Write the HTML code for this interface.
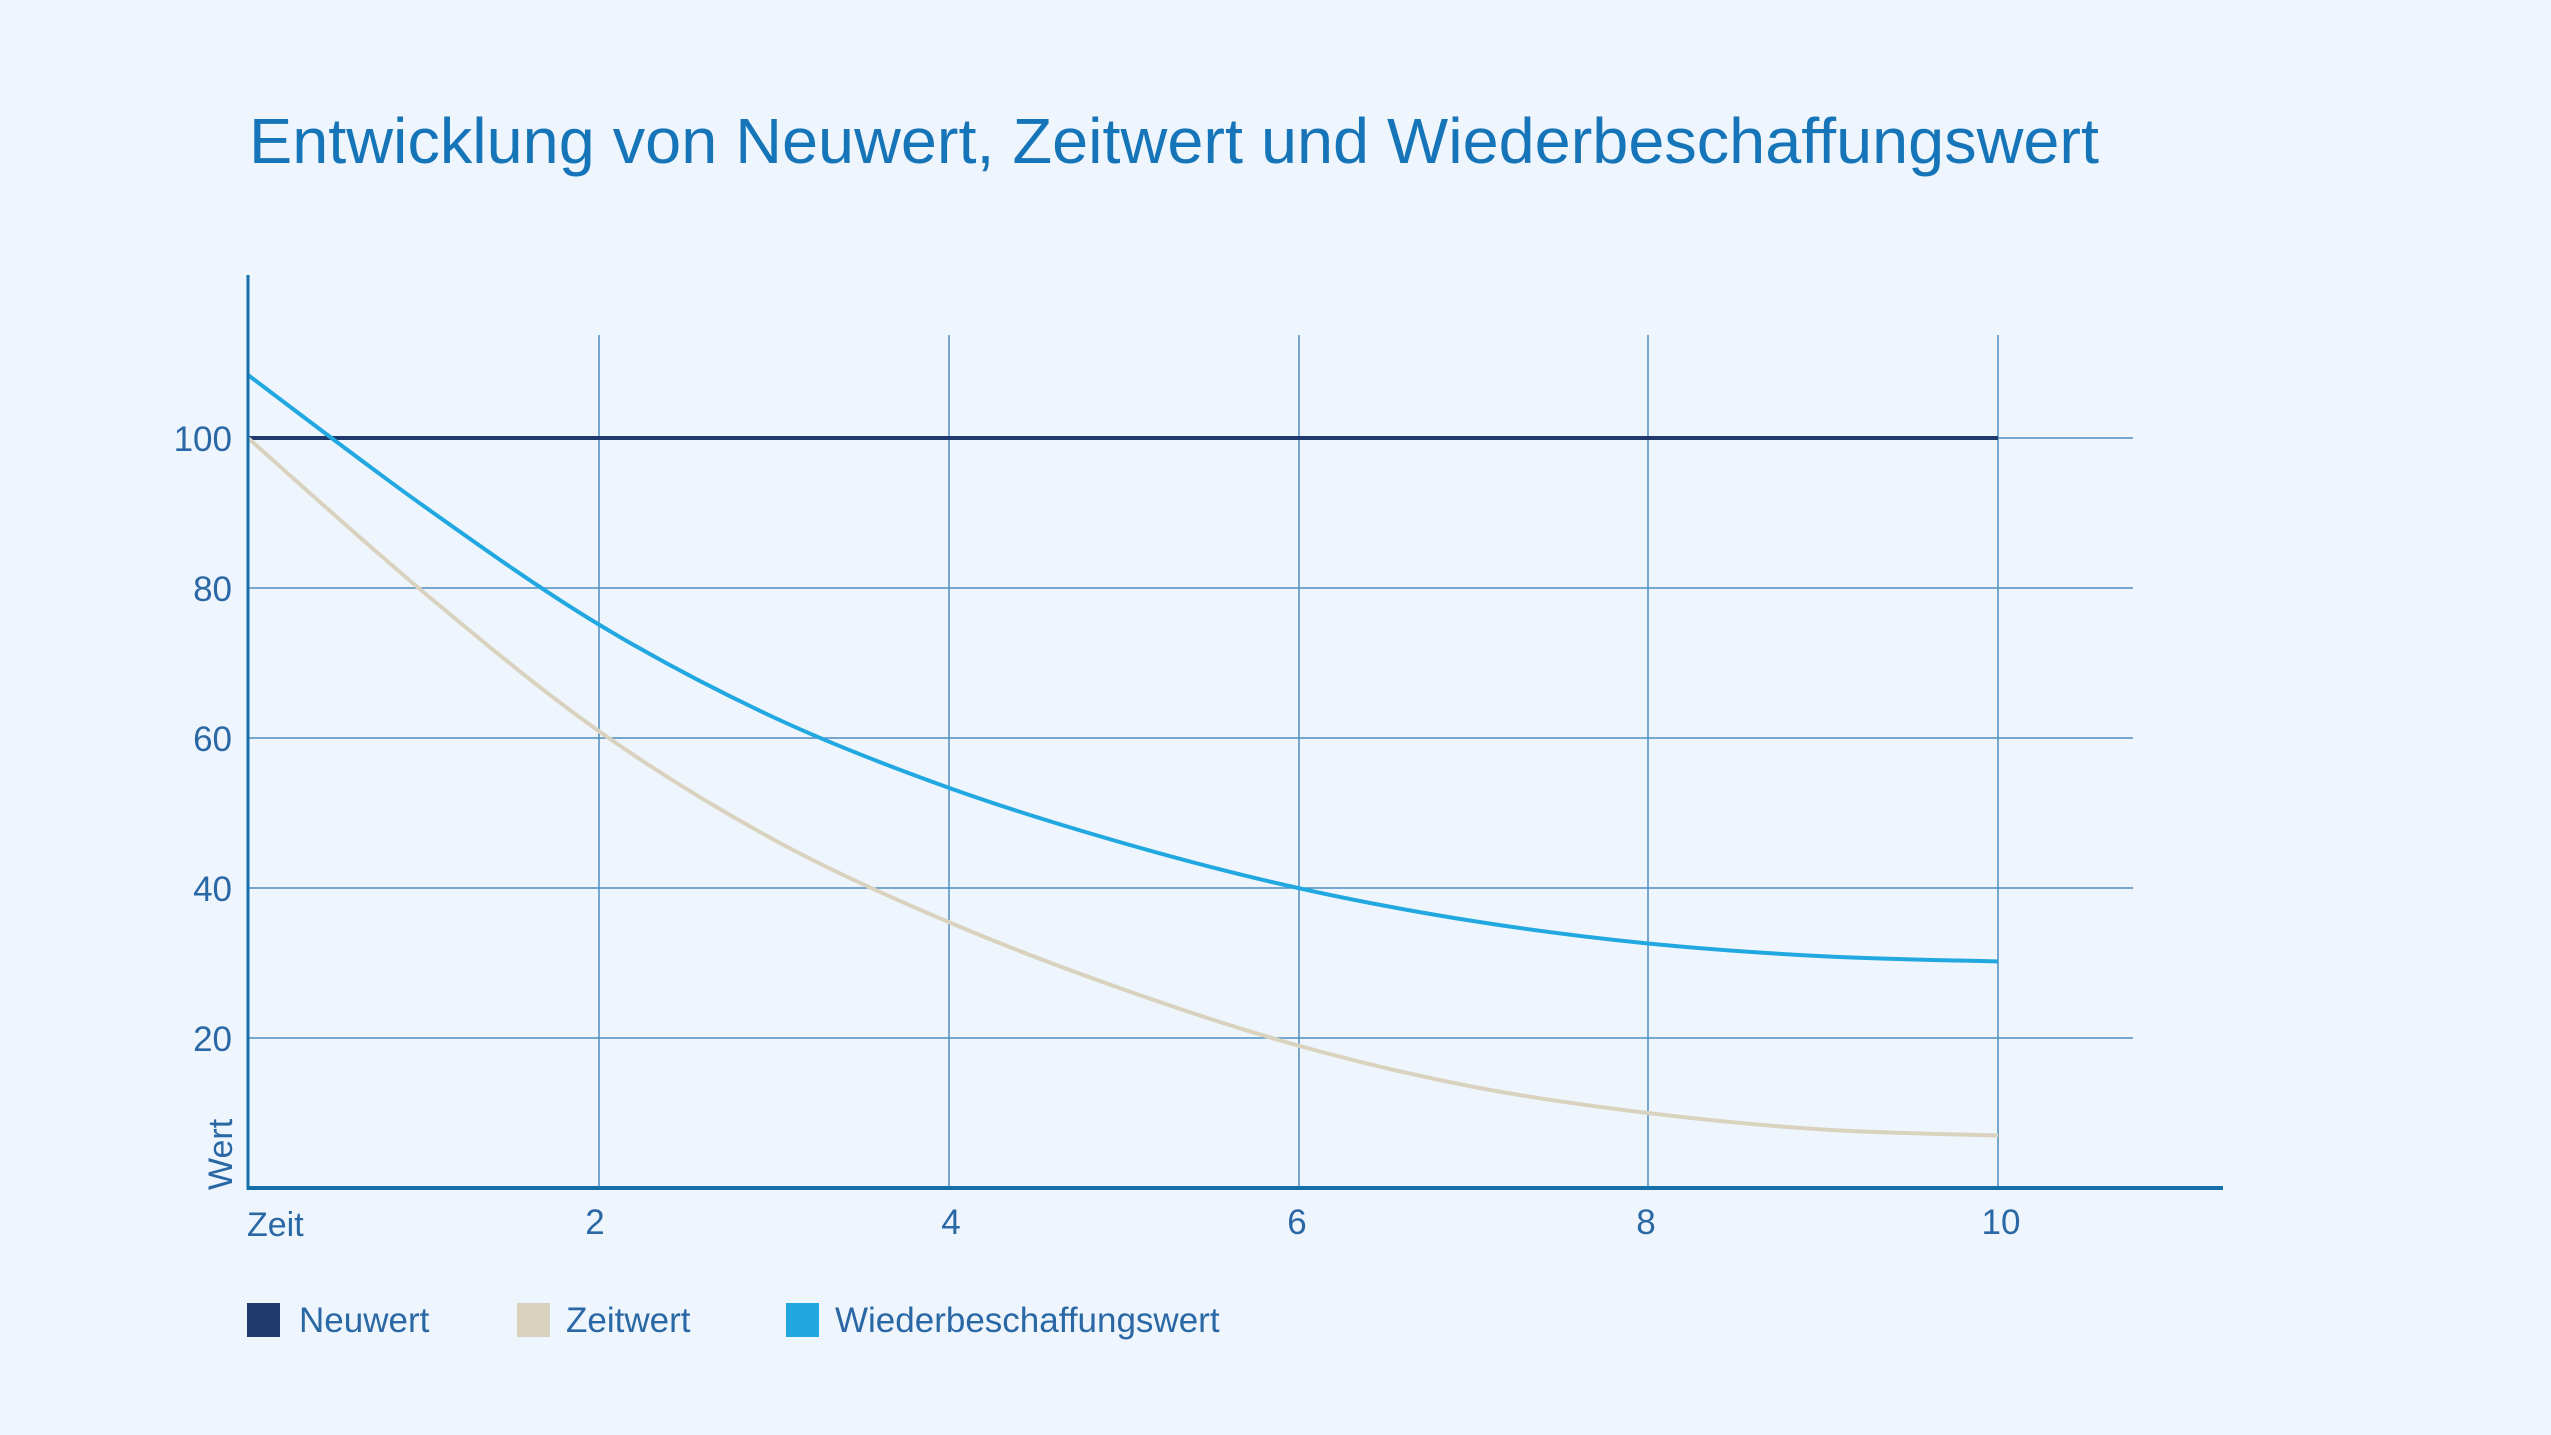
<!DOCTYPE html>
<html><head><meta charset="utf-8"><style>
html,body{margin:0;padding:0;background:#eef5fc;}
svg{display:block;}
text{font-family:"Liberation Sans",sans-serif;}
</style></head><body>
<svg id="s" width="2551" height="1435" viewBox="0 0 2551 1435" xmlns="http://www.w3.org/2000/svg">
<rect width="2551" height="1435" fill="#eef5fc"/>
<text x="249" y="163" font-size="64" fill="#1575b8" textLength="1850" lengthAdjust="spacingAndGlyphs">Entwicklung von Neuwert, Zeitwert und Wiederbeschaffungswert</text>
<g stroke="#4f8fc0" stroke-width="1.5">
<line x1="248" y1="438" x2="2133" y2="438"/>
<line x1="248" y1="588" x2="2133" y2="588"/>
<line x1="248" y1="738" x2="2133" y2="738"/>
<line x1="248" y1="888" x2="2133" y2="888"/>
<line x1="248" y1="1038" x2="2133" y2="1038"/>
<line x1="599" y1="335" x2="599" y2="1188"/>
<line x1="949" y1="335" x2="949" y2="1188"/>
<line x1="1299" y1="335" x2="1299" y2="1188"/>
<line x1="1648" y1="335" x2="1648" y2="1188"/>
<line x1="1998" y1="335" x2="1998" y2="1188"/>
</g>
<line x1="248" y1="438" x2="1998" y2="438" stroke="#203a6e" stroke-width="4"/>
<path id="beige" fill="none" stroke="#d9d2bf" stroke-width="4"/>
<path id="blue" fill="none" stroke="#22a8e0" stroke-width="4"/>
<line x1="248" y1="275" x2="248" y2="1190" stroke="#1570aa" stroke-width="3"/>
<line x1="247" y1="1188" x2="2223" y2="1188" stroke="#1570aa" stroke-width="4"/>
<g font-size="35" fill="#2a68a5" text-anchor="end">
<text x="232" y="451">100</text>
<text x="232" y="601">80</text>
<text x="232" y="751">60</text>
<text x="232" y="901">40</text>
<text x="232" y="1051">20</text>
</g>
<g font-size="35" fill="#2a68a5" text-anchor="middle">
<text x="595" y="1234">2</text>
<text x="951" y="1234">4</text>
<text x="1297" y="1234">6</text>
<text x="1646" y="1234">8</text>
<text x="2001" y="1234">10</text>
</g>
<text x="247" y="1236" font-size="34" fill="#2a68a5">Zeit</text>
<text transform="translate(232,1190) rotate(-90)" font-size="34" fill="#2a68a5">Wert</text>
<rect x="247" y="1303" width="33" height="34" fill="#203a6e"/>
<rect x="517" y="1303" width="33" height="34" fill="#d9d2bf"/>
<rect x="786" y="1303" width="33" height="34" fill="#22a8e0"/>
<g font-size="35" fill="#2a68a5">
<text x="299" y="1332">Neuwert</text>
<text x="566" y="1332">Zeitwert</text>
<text x="835" y="1332">Wiederbeschaffungswert</text>
</g>
</svg>
<script>
function X(t){return 248+175*t;}function Y(v){return 1188-7.5*v;}
function path(vals){var p=vals.map(function(v,i){return [X(i),Y(v)];});var d="M"+p[0][0]+","+p[0][1];
for(var i=0;i<p.length-1;i++){var p0=p[i-1]||p[i],p1=p[i],p2=p[i+1],p3=p[i+2]||p2;
d+=" C"+(p1[0]+(p2[0]-p0[0])/6)+","+(p1[1]+(p2[1]-p0[1])/6)+" "+(p2[0]-(p3[0]-p1[0])/6)+","+(p2[1]-(p3[1]-p1[1])/6)+" "+p2[0]+","+p2[1];}return d;}
document.getElementById("beige").setAttribute("d",path([100,79.5,61,46.5,35.5,26.5,19,13.5,10,7.8,7]));
document.getElementById("blue").setAttribute("d",path([108.4,91,75.2,62.8,53.4,46,40,35.6,32.6,30.9,30.2]));
</script>
</body></html>
